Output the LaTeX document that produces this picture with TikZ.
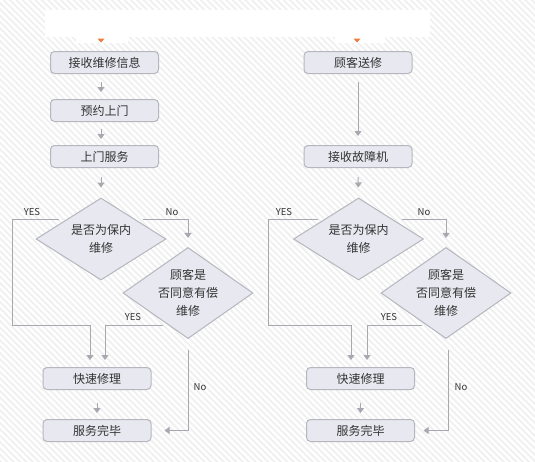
\documentclass[tikz,border=0pt]{standalone}
\usepackage{fontspec}
\setmainfont{Noto Sans CJK SC}
\usetikzlibrary{arrows.meta, positioning, shapes.geometric, patterns.meta}
\definecolor{boxfill}{HTML}{E7E8F0}
\definecolor{boxline}{HTML}{B6B6BE}
\definecolor{arrowgray}{HTML}{A8A8B0}
\definecolor{textgray}{HTML}{333333}
\definecolor{tipcolor}{HTML}{F07A3A}

\begin{document}
\begin{tikzpicture}[
      x=1pt, y=1pt,
      box/.style={draw=boxline, fill=boxfill, line width=1pt, rounded corners=4pt, minimum width=108pt, minimum height=22pt, inner sep=0pt, font=\fontsize{12}{18}\selectfont, text=textgray},
      choice/.style={diamond, draw=boxline, fill=boxfill, line width=1pt, minimum width=130pt, minimum height=82pt, inner sep=-4pt, align=center, font=\fontsize{12}{18}\selectfont, text=textgray},
      arrow/.style={-{Triangle[width=7pt, length=5pt]}, draw=arrowgray, line width=1pt},
      lbl/.style={font=\fontsize{9.5}{11}\selectfont, text=textgray, inner sep=0pt}
  ]
    % background
    \useasboundingbox (0,0) rectangle (535,-461);
    \fill[white] (0,0) rectangle (535,-461);
    \fill[pattern={Lines[angle=-45, distance=4.5pt, line width=1.8pt]}, pattern color=black!6] (0,0) rectangle (535,-461);
    \fill[white] (45,-10) rectangle (430,-37);
    \fill[white] (76,-37) rectangle (128,-43);
    \fill[white] (335,-37) rectangle (385,-43);

    % left flow
    \node[box] (recv) at (104.5,-62.5) {接收维修信息};
    \node[box, below=25pt of recv] (book) {预约上门};
    \node[box, below=23pt of book] (visit) {上门服务};
    \node[choice] (dA) at (101,-239) {是否为保内\\维修};
    \node[choice] (dB) at (188,-293) {顾客是\\否同意有偿\\维修};
    \node[box] (fix) at (97,-378.5) {快速修理};
    \node[box, below=29pt of fix] (done) {服务完毕};

    \fill[tipcolor] (97.5,-38.5) -- (104.5,-38.5) -- (101,-42.5) -- cycle;

    \draw[arrow, shorten <=8pt, shorten >=7pt] (recv.south -| dA.north) -- (book.north -| dA.north);
    \draw[arrow, shorten <=7pt, shorten >=6pt] (book.south -| dA.north) -- (visit.north -| dA.north);
    \draw[arrow, shorten <=9pt, shorten >=10pt] (visit.south -| dA.north) -- (dA.north);
    \draw[arrow, shorten >=7pt] ([shift={(-42pt,20pt)}]dA.center) -| (12,-325) -| ([xshift=-7pt]fix.north);
    \draw[arrow, shorten >=9pt] ([shift={(42pt,20pt)}]dA.center) -| (dB.north);
    \draw[arrow, shorten >=7pt] ([shift={(-25pt,-32pt)}]dB.center) -| ([xshift=8pt]fix.north);
    \draw[arrow, shorten <=11pt, shorten >=13pt] (dB.south) |- (done.east);
    \draw[arrow, shorten <=13pt, shorten >=6pt] (fix.south) -- (done.north);

    \node[lbl] (yesA) at (32,-212) {YES};
    \node[lbl] (noA) at (172,-212) {No};
    \node[lbl] (yesB) at (133,-317) {YES};
    \node[lbl] (noB) at (200,-387) {No};

    % right flow
    \node[box] (send) at (358,-62.5) {顾客送修};
    \node[box, below=71pt of send] (take) {接收故障机};
    \node[choice] (dC) at (358.5,-239) {是否为保内\\维修};
    \node[choice] (dD) at (446,-293) {顾客是\\否同意有偿\\维修};
    \node[box] (fixR) at (360.5,-378.5) {快速修理};
    \node[box, below=29pt of fixR] (doneR) {服务完毕};

    \fill[tipcolor] (353.5,-38.5) -- (360.5,-38.5) -- (357,-42.5) -- cycle;

    \draw[arrow, shorten <=8pt, shorten >=9pt] (send.south) -- (take.north);
    \draw[arrow, shorten <=9pt, shorten >=10pt] (take.south) -- (dC.north);
    \draw[arrow, shorten >=7pt] ([shift={(-40.5pt,20pt)}]dC.center) -| (268,-325) -| ([xshift=-9.5pt]fixR.north);
    \draw[arrow, shorten >=9pt] ([shift={(43.5pt,20pt)}]dC.center) -| (dD.north);
    \draw[arrow, shorten >=7pt] ([shift={(-24pt,-32pt)}]dD.center) -| ([xshift=6.5pt]fixR.north);
    \draw[arrow, shorten <=11pt, shorten >=8.5pt] ([xshift=2pt]dD.south) |- (doneR.east);
    \draw[arrow, shorten <=13pt, shorten >=6pt] (fixR.south) -- (doneR.north);

    \node[lbl] (yesC) at (284,-212) {YES};
    \node[lbl] (noC) at (424,-212) {No};
    \node[lbl] (yesD) at (389,-317) {YES};
    \node[lbl] (noD) at (461,-387) {No};
  \end{tikzpicture}
\end{document}
